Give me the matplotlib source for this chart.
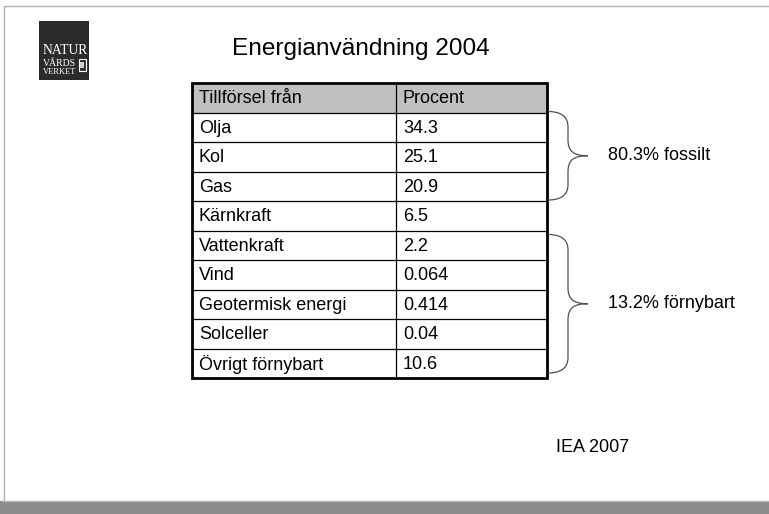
import matplotlib.pyplot as plt
from matplotlib.patches import Rectangle, PathPatch
from matplotlib.path import Path

plt.rcParams['font.family'] = ['Liberation Sans', 'DejaVu Sans']

title = "Energianvändning 2004"
header = ["Tillförsel från", "Procent"]
sources = ["Olja", "Kol", "Gas", "Kärnkraft", "Vattenkraft", "Vind",
           "Geotermisk energi", "Solceller", "Övrigt förnybart"]
percent = ["34.3", "25.1", "20.9", "6.5", "2.2", "0.064", "0.414", "0.04", "10.6"]
groups = [("80.3% fossilt", 0, 2), ("13.2% förnybart", 4, 8)]
credit = "IEA 2007"

W, H = 769, 514
fig = plt.figure(figsize=(W / 100, H / 100), dpi=100)
ax = fig.add_axes([0, 0, 1, 1])
ax.set_xlim(0, W)
ax.set_ylim(H, 0)
ax.axis('off')

# slide frame and bottom bar
ax.plot([3.5, 3.5, W], [500, 5.5, 5.5], color='#b0b0b0', lw=1)
ax.add_patch(Rectangle((0, 501), W, 13, color='#8c8c8c', lw=0))
ax.plot([3, W], [500.5, 500.5], color='#b8b8b8', lw=1)

# logo
serif = ['Liberation Serif', 'DejaVu Serif']
ax.add_patch(Rectangle((39, 21), 50, 59, color='#2b2b2b', lw=0))
ax.text(65, 51, "NATUR", color='white', fontsize=9.8, ha='center', va='center', family=serif)
ax.text(43, 63, "VÅRDS", color='white', fontsize=7, ha='left', va='center', family=serif)
ax.text(43, 72.5, "VERKET", color='white', fontsize=6, ha='left', va='center', family=serif)
ax.add_patch(Rectangle((78.5, 59), 7, 12, fill=False, ec='white', lw=0.8))
ax.add_patch(Rectangle((80, 62), 4, 6, color='#d0d0d0', lw=0))

ax.text(361, 49, title, fontsize=17.6, ha='center', va='center', color='black')

# table
x0, x1, xc = 191.5, 547, 395.5
y0, row_h = 83, 29.5
n = len(sources) + 1
y_end = y0 + n * row_h
ax.add_patch(Rectangle((x0, y0), x1 - x0, row_h, color='#c0c0c0', lw=0))
for i in range(1, n):
    y = y0 + i * row_h
    ax.plot([x0, x1], [y, y], color='black', lw=0.9)
ax.plot([xc, xc], [y0, y_end], color='black', lw=0.9)
ax.add_patch(Rectangle((x0, y0), x1 - x0, y_end - y0, fill=False, ec='black', lw=2))

rows = [header] + [[s, p] for s, p in zip(sources, percent)]
for i, (a, b) in enumerate(rows):
    yc = y0 + (i + 0.5) * row_h + 1
    ax.text(199, yc, a, fontsize=13, ha='left', va='center')
    ax.text(403, yc, b, fontsize=13, ha='left', va='center')


def brace(ytop, ybot, xl=548, xm=568, xt=588):
    ym = (ytop + ybot) / 2
    verts = [(xl, ytop), (xm, ytop), (xm, ytop + 12), (xm, ytop + 16),
             (xm, ym - 16),
             (xm, ym - 4), (xm + 6, ym), (xt, ym),
             (xm + 6, ym), (xm, ym + 4), (xm, ym + 16),
             (xm, ybot - 16),
             (xm, ybot - 12), (xm, ybot), (xl, ybot)]
    codes = [Path.MOVETO, Path.CURVE4, Path.CURVE4, Path.CURVE4,
             Path.LINETO,
             Path.CURVE4, Path.CURVE4, Path.CURVE4,
             Path.CURVE4, Path.CURVE4, Path.CURVE4,
             Path.LINETO,
             Path.CURVE4, Path.CURVE4, Path.CURVE4]
    ax.add_patch(PathPatch(Path(verts, codes), fill=False, ec='#505050', lw=0.9))
    return ym


for label, r0, r1 in groups:
    ytop = y0 + (r0 + 1) * row_h
    ybot = y0 + (r1 + 2) * row_h - 5
    if r0 == 0:
        ytop -= 1
        ybot += 4
    else:
        ytop += 4
    ym = brace(ytop, ybot)
    ax.text(608, ym, label, fontsize=13, ha='left', va='center')

ax.text(556, 448, credit, fontsize=13, ha='left', va='center')

fig.savefig('out.png', dpi=100)
